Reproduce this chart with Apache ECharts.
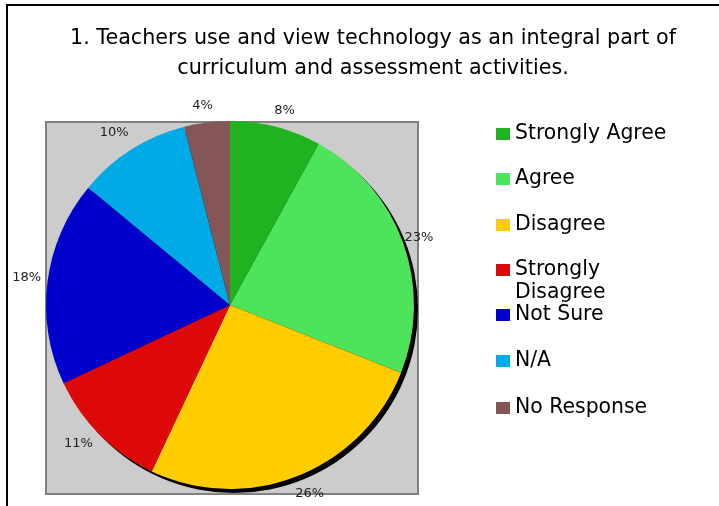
<!DOCTYPE html>
<html>
<head>
<meta charset="utf-8">
<script src="https://cdn.jsdelivr.net/npm/echarts@6/dist/echarts.min.js"></script>
<style>
  html, body { margin: 0; padding: 0; background: #fff; }
  #main { width: 719px; height: 506px; }
</style>
</head>
<body>
<div id="main"></div>
<script>
// answers and their share (percent)
const categories = ['Strongly Agree', 'Agree', 'Disagree', 'Strongly Disagree', 'Not Sure', 'N/A', 'No Response'];
const values = [8, 23, 26, 11, 18, 10, 4];
const colors = ['#1fb41f', '#4de35a', '#ffcc00', '#dd0909', '#0000cc', '#00aae6', '#855656'];
const titleLines = ['1. Teachers use and view technology as an integral part of', 'curriculum and assessment activities.'];
// small nudges so the percent labels sit where the original put them
const labelNudge = [[4, 2], [-2, 1], [5, 0], [-8, -5], [-2, -2], [-7, -1], [-2, 2]];

const chart = echarts.init(document.getElementById('main'));

const pieData = categories.map((name, i) => ({
  name: name,
  value: values[i],
  itemStyle: { color: colors[i] }
}));

// one small legend per answer so the rows keep the same gap
const legendTops = [123, 168, 214, 235.5, 304, 350, 397];
const legends = categories.map((name, i) => {
  const twoLines = name === 'Strongly Disagree';
  return {
    data: [name],
    left: 496,
    top: legendTops[i],
    padding: 0,
    icon: 'rect',
    itemWidth: 14,
    itemHeight: 12,
    selectedMode: false,
    // blank first line keeps "Strongly" level with the square
    formatter: twoLines ? '\nStrongly\nDisagree' : name,
    textStyle: {
      fontFamily: 'DejaVu Sans',
      fontSize: 20.4,
      color: '#000',
      lineHeight: twoLines ? 23 : 22
    }
  };
});

const option = {
  animation: false,
  backgroundColor: '#fff',
  title: {
    text: titleLines.join('\n'),
    left: 368,
    top: 19,
    textAlign: 'center',
    textStyle: {
      fontFamily: 'DejaVu Sans',
      fontSize: 20.7,
      fontWeight: 'normal',
      color: '#000',
      lineHeight: 30
    }
  },
  legend: legends,
  graphic: [
    {
      type: 'rect', z: -10,
      shape: { x: 7, y: 5, width: 800, height: 600 },
      style: { fill: 'none', stroke: '#000', lineWidth: 2 }
    },
    {
      type: 'rect', z: -9,
      shape: { x: 46, y: 122, width: 372, height: 372 },
      style: { fill: '#cccccc', stroke: '#808080', lineWidth: 2 }
    }
  ],
  series: [
    {
      // drop shadow under the pie
      type: 'pie',
      silent: true,
      center: [234, 309],
      radius: 184,
      label: { show: false },
      labelLine: { show: false },
      data: [{ name: 'shadow', value: 1, itemStyle: { color: '#000' } }]
    },
    {
      type: 'pie',
      center: [230, 305],
      radius: 184,
      startAngle: 90,
      clockwise: true,
      silent: true,
      label: { show: false },
      labelLine: { show: false },
      itemStyle: { borderWidth: 0 },
      data: pieData
    },
    {
      // carries the percent labels just outside the slices
      type: 'pie',
      center: [230, 305],
      radius: 400,
      startAngle: 90,
      clockwise: true,
      silent: true,
      itemStyle: { color: 'transparent', borderWidth: 0 },
      label: {
        show: true,
        position: 'inside',
        formatter: '{c}%',
        fontFamily: 'DejaVu Sans',
        fontSize: 13,
        color: '#222'
      },
      labelLine: { show: false },
      data: categories.map((name, i) => ({
        name: name,
        value: values[i],
        label: { offset: labelNudge[i] }
      }))
    }
  ]
};

chart.setOption(option);
</script>
</body>
</html>
